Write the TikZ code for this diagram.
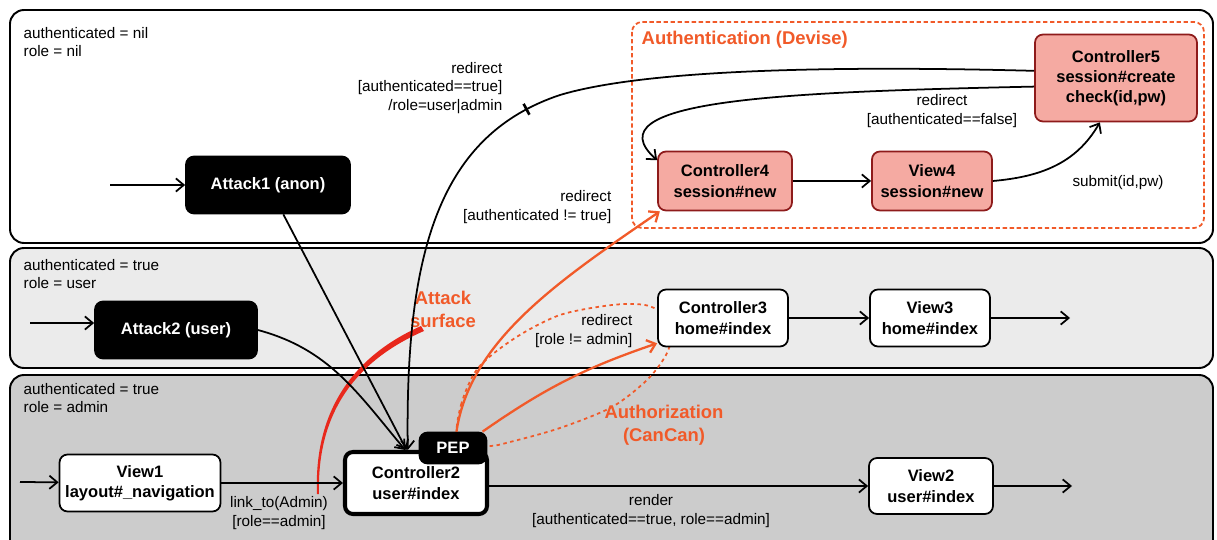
\documentclass[tikz,border=0pt]{standalone}
\usepackage{fontspec}
\setmainfont{Liberation Sans}
\usetikzlibrary{
    arrows.meta,
}
\definecolor{orng}{HTML}{F15A29}
\definecolor{brushred}{HTML}{E8281C}
\definecolor{authpink}{HTML}{F5AAA2}
\definecolor{authred}{HTML}{8E1B1B}
\definecolor{lanelight}{HTML}{EBEBEB}
\definecolor{lanedark}{HTML}{CCCCCC}
\newcommand{\boxfont}{\fontsize{9.4}{11.5}\selectfont\bfseries}
\newcommand{\lblfont}{\fontsize{8.7}{10.5}\selectfont}
\newcommand{\hotfont}{\fontsize{10.5}{13}\selectfont\bfseries}

\begin{document}
\begin{tikzpicture}[x=0.02cm, y=-0.02cm, node distance={4.14cm}, thick,
    >={Straight Barb[length=4.5pt,width=7.5pt]},
    lane/.style = {draw, line width=1.1pt, rounded corners=0.28cm},
    main/.style = {draw, rounded corners=0.16cm, fill=white, line width=1pt, minimum height=1.14cm, align=center, font=\boxfont, inner sep=2pt},
    attack/.style = {main, fill=black, text=white},
    auth/.style = {main, fill=authpink, draw=authred},
    lbl/.style = {font=\lblfont, inner sep=0pt},
    hot/.style = {text=orng, font=\hotfont, align=center, inner sep=0pt},
    conn/.style = {->, line width=1pt},
    oconn/.style = {->, draw=orng, line width=1.3pt},
    tickmark/.style = {fill=black, inner sep=0pt, minimum width=1.5pt, minimum height=7pt, sloped},
]
    \useasboundingbox (0,0) rectangle (1217,540);
    \clip (0,0) rectangle (1217,540);
    \draw[lane, fill=white]     (10,10)  rectangle (1213,243);
    \draw[lane, fill=lanelight] (10,248) rectangle (1213,368);
    \draw[lane, fill=lanedark]  (10,375) rectangle (1213,570);
    \draw[orng, dash pattern=on 2.5pt off 1.5pt, line width=1pt, rounded corners=0.2cm] (632,22) rectangle (1204,228);
    \draw[orng, dash pattern=on 2pt off 2pt, line width=1pt] plot[smooth cycle] coordinates {
        (458,440) (461,405) (478,368) (515,338) (560,315) (612,305) (645,305) (665,315)
        (672,333) (666,355) (647,380) (612,407) (560,428) (510,442) (488,446)};
    \fill[brushred] (317,494) .. controls (314,420) and (345,360) .. (421,326) -- (424,331)
        .. controls (348,364) and (317,421) .. (319,494) -- cycle;

    \node[lbl, anchor=west, align=left] (st1) at (23,42)  {authenticated = nil\\role = nil};
    \node[lbl, anchor=west, align=left] (st2) at (23,274) {authenticated = true\\role = user};
    \node[lbl, anchor=west, align=left] (st3) at (23,398) {authenticated = true\\role = admin};

    \node[attack, minimum width=3.28cm] (a1) at (268,185) {Attack1 (anon)};
    \node[attack, minimum width=3.24cm] (a2) at (176,330) {Attack2 (user)};
    \node[main, minimum width=3.22cm] (v1) at (140,483) {View1\\layout\#\_navigation};
    \node[main, minimum width=2.84cm, minimum height=1.24cm, line width=2.3pt] (c2) at (416,483) {Controller2\\user\#index};
    \node[attack, minimum width=1.34cm, minimum height=0.62cm] (pep) at (453,448) {PEP};
    \node[main, minimum width=2.6cm] (c3) at (723,318) {Controller3\\home\#index};
    \node[main, minimum width=2.4cm] (v3) [right of=c3] {View3\\home\#index};
    \node[main, minimum width=2.48cm, minimum height=1.12cm] (v2) at (931,486) {View2\\user\#index};
    \node[auth, minimum width=2.68cm, minimum height=1.18cm] (c4) at (725,181) {Controller4\\session\#new};
    \node[auth, minimum width=2.4cm, minimum height=1.18cm] (v4) [right of=c4] {View4\\session\#new};
    \node[auth, minimum width=3.24cm, minimum height=1.74cm] (c5) at (1116,78) {Controller5\\session\#create\\check(id,pw)};

    \node[hot, anchor=west] (devise) at (641,40) {Authentication (Devise)};
    \node[hot] (surface) at (443,309) {Attack\\surface};
    \node[hot] (cancan) at (664,425) {Authorization\\(CanCan)};

    \coordinate (s1) at (110,185);
    \coordinate (s2) at (30,323);
    \coordinate (s3) at (20,482);
    \coordinate (e3) at (1070,317);
    \coordinate (e2) at (1072,482);
    \draw[conn] (s1) -- (a1);
    \draw[conn] (s2) -- (s2 -| a2.west);
    \draw[conn] (s3) -- (v1);
    \draw[conn] (v1) -- (c2);
    \draw[conn] (a1) -- (c2.106);
    \draw[conn] (a2.east) to[out=-15, in=130] (c2.108);
    \draw[conn] (c5.175) .. controls (850,66) and (650,68) .. (560,95)
        .. controls (440,135) and (405,250) .. (c2.104) node[tickmark, pos=0.1] {};
    \draw[conn] (c5.186) .. controls (780,92) and (590,100) .. (c4.163);
    \draw[conn] (c4) -- (v4);
    \draw[conn] (v4.east) to[out=5, in=-120] (c5.250);
    \draw[conn] (c3) -- (v3);
    \draw[conn] (v3) -- (v3 -| e3);
    \draw[conn] (c2.east |- v2) -- (v2);
    \draw[conn] (v2) -- (v2 -| e2);
    \draw[oconn] (pep.78) .. controls (470,340) and (560,280) .. (c4.205);
    \draw[oconn] (pep.29) to[bend left=8] (c3.201);

    \node[lbl, anchor=east, align=right] (l1) at (503,88) {redirect\\{}[authenticated==true]\\/role=user|admin};
    \node[lbl, align=center] (l2) at (942,111) {redirect\\{}[authenticated==false]};
    \node[lbl] (l3) at (1118,183) {submit(id,pw)};
    \node[lbl, anchor=east, align=right] (l4) at (612,207) {redirect\\{}[authenticated != true]};
    \node[lbl, anchor=east, align=right] (l5) at (633,331) {redirect\\{}[role != admin]};
    \node[lbl, align=center] (l6) at (279,513) {link\_to(Admin)\\{}[role==admin]};
    \node[lbl, align=center] (l7) at (651,511) {render\\{}[authenticated==true, role==admin]};
\end{tikzpicture}
\end{document}
